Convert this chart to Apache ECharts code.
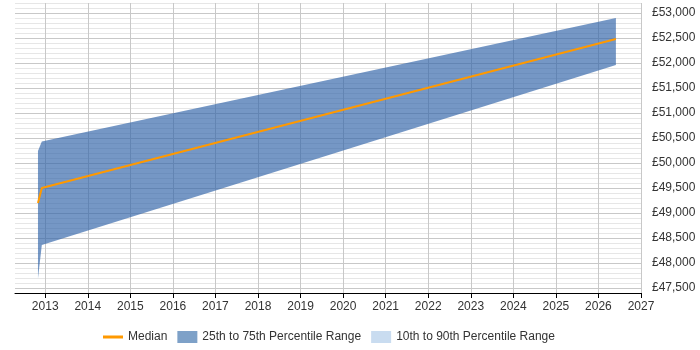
<!DOCTYPE html>
<html>
<head>
<meta charset="UTF-8">
<title>Salary percentiles</title>
<script src="https://cdn.jsdelivr.net/npm/echarts@6.0.0/dist/echarts.min.js"></script>
<style>
    html, body { margin: 0; padding: 0; background: #fff; }
    #chart { width: 700px; height: 350px; }
</style>
</head>
<body>
<div id="chart"></div>
<script>
// data (decimal years)
const years = [2012.83, 2012.92, 2026.41];
const median = [49200, 49500, 52480];
const p25 = [47690, 48360, 51960];
const p75 = [50240, 50430, 52900];
const yearTicks = [2013, 2014, 2015, 2016, 2017, 2018, 2019, 2020, 2021, 2022, 2023, 2024, 2025, 2026, 2027];

const chart = echarts.init(document.getElementById('chart'));

const minorColor = '#e6e6e6';
const majorColor = '#c8c8c8';

// band polygon: upper edge forward, lower edge back
function renderBand(params, api) {
    if (params.dataIndex !== 0) return;
    const pts = [];
    for (let i = 0; i < years.length; i++) pts.push(api.coord([years[i], p75[i]]));
    for (let i = years.length - 1; i >= 0; i--) pts.push(api.coord([years[i], p25[i]]));
    return {
        type: 'polygon',
        shape: { points: pts },
        style: { fill: 'rgba(51,102,170,0.68)' }
    };
}

const option = {
    animation: false,
    textStyle: { fontFamily: 'Liberation Sans, Arial, sans-serif' },
    grid: { left: 15, right: 59, top: 3, bottom: 57 },
    legend: {
        top: 326,
        left: 98,
        itemWidth: 20,
        itemHeight: 12,
        itemGap: 10,
        textStyle: { color: '#333', fontSize: 12 },
        data: [
            { name: 'Median', icon: 'path://M0,0L0.01,0L0.01,0.01Z M0,4.5L20,4.5L20,7.5L0,7.5Z M19.99,11.99L20,11.99L20,12Z', itemStyle: { color: '#ff9900' } },
            { name: '25th to 75th Percentile Range', icon: 'rect', itemStyle: { color: '#7ea1c8' } },
            { name: '10th to 90th Percentile Range', icon: 'rect', itemStyle: { color: '#c9dcf0' } }
        ]
    },
    xAxis: {
        type: 'value',
        min: 2012.29,
        max: 2027,
        axisLine: { lineStyle: { color: '#000' } },
        axisTick: { length: 5, lineStyle: { color: '#000' }, customValues: yearTicks },
        axisLabel: { color: '#333', fontSize: 12, margin: 8, customValues: yearTicks, formatter: v => String(v) },
        splitLine: { show: true, lineStyle: { color: majorColor } }
    },
    yAxis: {
        type: 'value',
        position: 'right',
        min: 47400,
        max: 53200,
        interval: 100,
        axisLine: { show: false },
        axisTick: { show: false },
        axisLabel: {
            interval: 0,
            color: '#333',
            fontSize: 12,
            margin: 11,
            formatter: v => (v % 500 === 0 ? '£' + v.toLocaleString('en-GB') : '')
        },
        splitLine: {
            lineStyle: { color: [minorColor, majorColor, minorColor, minorColor, minorColor] }
        }
    },
    series: [
        {
            name: '25th to 75th Percentile Range',
            type: 'custom',
            renderItem: renderBand,
            itemStyle: { color: '#7ea1c8' },
            data: years.map((x, i) => [x, p25[i], p75[i]]),
            z: 2
        },
        {
            name: '10th to 90th Percentile Range',
            type: 'line',
            symbol: 'none',
            itemStyle: { color: '#c9dcf0' },
            data: []
        },
        {
            name: 'Median',
            type: 'line',
            symbol: 'none',
            itemStyle: { color: '#ff9900' },
            lineStyle: { color: '#ff9900', width: 2 },
            data: years.map((x, i) => [x, median[i]]),
            z: 3
        }
    ]
};

chart.setOption(option);
</script>
</body>
</html>
